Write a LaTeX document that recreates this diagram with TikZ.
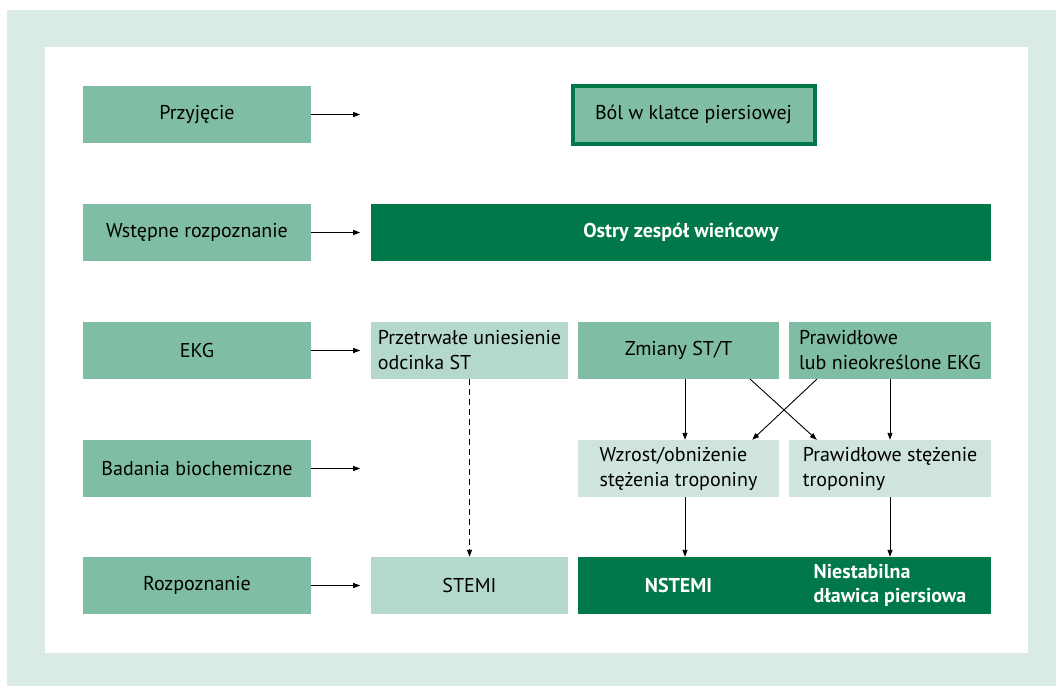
\documentclass[tikz,border=0pt]{standalone}
\usepackage{fontspec}
\setmainfont{PT Sans}
\usepackage{tikz}
\usetikzlibrary{positioning, arrows.meta}
\definecolor{acsband}{RGB}{218, 235, 229}
\definecolor{acsmid}{RGB}{128, 189, 165}
\definecolor{acsdark}{RGB}{0, 120, 74}
\definecolor{acspale}{RGB}{180, 216, 201}
\definecolor{acspaler}{RGB}{207, 229, 220}
\tikzset{
    acsbox/.style={rectangle, inner sep=0pt, minimum height=57pt, align=left, font=\fontsize{20}{25}\selectfont},
    rowbox/.style={acsbox, fill=acsmid, minimum width=228pt},
    midbox/.style={acsbox, fill=acsmid, minimum width=201pt},
    palebox/.style={acsbox, fill=acspale, minimum width=197pt},
    palerbox/.style={acsbox, fill=acspaler, minimum width=201pt},
    darkbox/.style={acsbox, fill=acsdark, text=white, font=\fontsize{20}{25}\selectfont\bfseries},
    darktext/.style={align=left, inner sep=0pt, text=white, font=\fontsize{20}{24}\selectfont\bfseries},
    arr/.style={-{Triangle[length=7pt,width=5pt]}, line width=0.9pt}
}

\begin{document}
\begin{tikzpicture}[x=1pt, y=-1pt]
    \useasboundingbox (0,0) rectangle (1056,686);
    \fill[acsband] (7,10) rectangle (1056,686);
    \fill[white] (45,47) rectangle (1028,653);

    % row labels
    \node[rowbox] (przyjecie) at (197,114.5) {Przyjęcie};
    \node[rowbox] (wstepne) at (197,232.5) {Wstępne rozpoznanie};
    \node[rowbox] (ekg) at (197,350.5) {EKG};
    \node[rowbox] (biochem) at (197,468.5) {Badania biochemiczne};
    \node[rowbox] (rozpoznanie) at (197,585.5) {Rozpoznanie};
    \foreach \r in {przyjecie, wstepne, ekg, biochem, rozpoznanie} {
        \coordinate (\r-end) at ([xshift=49pt]\r.east);
        \draw[arr] (\r.east) -- (\r-end);
    }

    % flow
    \node[acsbox, fill=acsmid, draw=acsdark, line width=4pt, minimum width=242pt, minimum height=58pt] (bol) at (693.5,114.5) {Ból w klatce piersiowej};
    \node[darkbox, minimum width=620pt] (ostry) at (681,232.5) {Ostry zespół wieńcowy};
    \node[palebox] (uniesienie) at (469.5,350.5) {Przetrwałe uniesienie\\odcinka ST};
    \node[midbox] (zmiany) at (678.5,350.5) {Zmiany ST/T};
    \node[midbox, minimum width=202pt] (prawekg) at (890,350.5) {Prawidłowe\\lub nieokreślone EKG};
    \node[palerbox] (wzrost) at (678.5,468.5) {Wzrost/obniżenie\\stężenia troponiny};
    \node[palerbox, minimum width=202pt] (prawtrop) at (890,468.5) {Prawidłowe stężenie\\troponiny};
    \node[palebox] (stemi) at (469.5,585.5) {STEMI};
    \node[darkbox, minimum width=413pt] (nstebox) at (784.5,585.5) {};
    \node[darktext] (nstemi) at (wzrost |- nstebox) {NSTEMI};
    \node[darktext] (dusznica) at (prawtrop |- nstebox) {Niestabilna\\dławica piersiowa};

    \draw[arr, dash pattern=on 6pt off 4pt] (uniesienie.south) -- (stemi.north);
    \draw[arr] ([xshift=6.5pt]zmiany.south) -- ([xshift=6.5pt]wzrost.north);
    \draw[arr] ([xshift=-29pt]zmiany.south east) -- ([xshift=28pt]prawtrop.north west);
    \draw[arr] ([xshift=28pt]prawekg.south west) -- ([xshift=-27pt]wzrost.north east);
    \draw[arr] (prawekg.south) -- (prawtrop.north);
    \draw[arr] ([xshift=6.5pt]wzrost.south) -- ([xshift=6.5pt]wzrost.south |- nstebox.north);
    \draw[arr] (prawtrop.south) -- (prawtrop.south |- nstebox.north);
\end{tikzpicture}
\end{document}
